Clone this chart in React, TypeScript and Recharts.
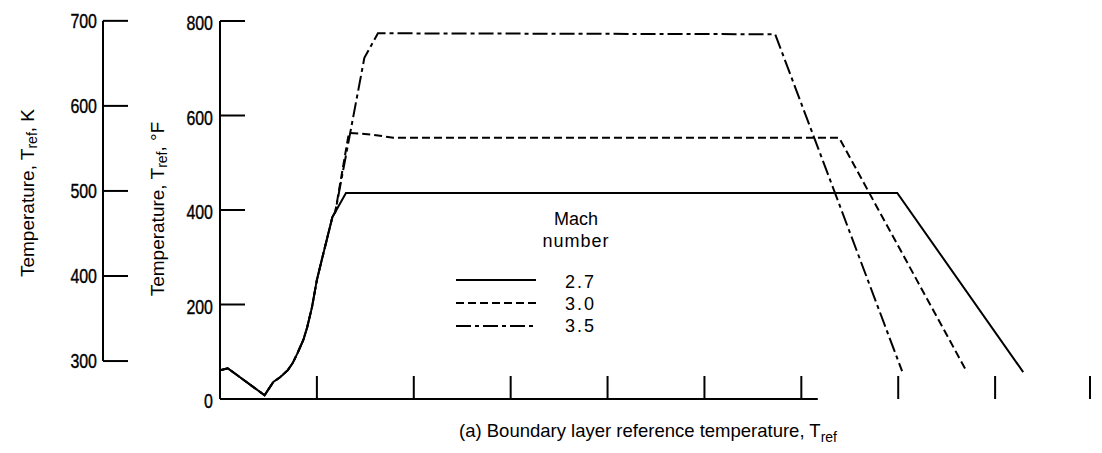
import React from 'react';
import { LineChart, Line, XAxis, YAxis, ReferenceLine, Legend, Label } from 'recharts';

// shared warm-up / climb part of the history (time ticks 0..9, temperature in deg F)
const riseTime = [0, 0.08, 0.46, 0.55, 0.62, 0.7, 0.75, 0.8, 0.86, 0.9, 0.95, 1.0, 1.05, 1.16, 1.19];
const riseTemp = [61, 65, 8, 36, 46, 61, 76, 97, 125, 152, 195, 252, 294, 385, 396];

// cruise + descent part for each Mach number
const mach27Time = [1.3, 6.99, 8.29];
const mach27Temp = [436, 436, 57];
const mach30Time = [1.33, 1.55, 1.79, 6.39, 7.71];
const mach30Temp = [563, 560, 553, 553, 57];
const mach35Time = [1.49, 1.63, 5.73, 7.04];
const mach35Temp = [722, 774, 772, 59];

const timeTicks = [1, 2, 3, 4, 5, 6, 7, 8, 9];
const fTicks = [0, 200, 400, 600, 800];
const kTicks = [300, 400, 500, 600, 700];
const baselineEnd = 6.17;

const F_MIN = 0;
const F_MAX = 800;
const toK = (f: number) => (f - 32) * 5 / 9 + 273.15;

const W = 1086;
const H = 437;
const TOP = 13;
const PLOT_H = 378;
const kStepPx = (100 * 9 / 5) * PLOT_H / (F_MAX - F_MIN);

const TEXT_FONT = '"Liberation Sans", Arial, sans-serif';

const build = (tx: number[], ty: number[]) =>
  riseTime.map((t, i) => ({ t, temp: riseTemp[i] })).concat(tx.map((t, i) => ({ t, temp: ty[i] })));

const series = [
  { name: '2.7', data: build(mach27Time, mach27Temp), dash: undefined as string | undefined },
  { name: '3.0', data: build(mach30Time, mach30Temp), dash: '8 4' },
  { name: '3.5', data: build(mach35Time, mach35Temp), dash: '15 4 4 4' },
];

// condensed numerals: regular face squeezed horizontally
const Num = ({ x, y, children }: { x: number; y: number; children: React.ReactNode }) => (
  <text
    transform={`translate(${x}, ${y}) scale(0.76, 1)`}
    textAnchor="end"
    fontFamily={TEXT_FONT}
    fontSize={21}
    stroke="#000"
    strokeWidth={0.4}
    fill="#000"
  >
    {children}
  </text>
);

const FTick = (props: any) => {
  const { x, y, payload } = props;
  return (
    <g>
      <line x1={x} x2={x + 25} y1={y} y2={y} stroke="#000" strokeWidth={2} />
      <Num x={x - 7} y={y + 9}>{payload.value}</Num>
    </g>
  );
};

const KTick = (props: any) => {
  const { x, y, payload } = props;
  const v = Math.round(payload.value);
  return (
    <g>
      <line x1={x} x2={x + 25} y1={y} y2={y} stroke="#000" strokeWidth={2} />
      {v > 300 && <line x1={x} x2={x} y1={y} y2={y + kStepPx} stroke="#000" strokeWidth={2} />}
      <Num x={x - 6} y={y + 7}>{v}</Num>
    </g>
  );
};

const TimeTick = (props: any) => {
  const { x, y } = props;
  return <line x1={x} x2={x} y1={y} y2={y - 23} stroke="#000" strokeWidth={2} />;
};

const axisTitle = (dx: number, dy: number, unit: string) => (props: any) => {
  const { viewBox } = props;
  const cx = viewBox.x + dx;
  const cy = viewBox.y + viewBox.height / 2 + dy;
  return (
    <text
      x={cx}
      y={cy}
      transform={`rotate(-90, ${cx}, ${cy})`}
      textAnchor="middle"
      dominantBaseline="central"
      fontFamily={TEXT_FONT}
      fontSize={19}
      fill="#000"
    >
      Temperature, T<tspan dy={5} fontSize={14}>ref</tspan>
      <tspan dy={-5}>, {unit}</tspan>
    </text>
  );
};

const timeTitle = (props: any) => {
  const { viewBox } = props;
  const cx = viewBox.x + 428;
  const cy = viewBox.y + 38;
  return (
    <text x={cx} y={cy} textAnchor="middle" fontFamily={TEXT_FONT} fontSize={18.5} fill="#000">
      (a) Boundary layer reference temperature, T<tspan dy={5} fontSize={14}>ref</tspan>
    </text>
  );
};

const MachLegend = () => (
  <svg width={170} height={130} style={{ display: 'block' }}>
    <text x={120} y={17} textAnchor="middle" fontFamily={TEXT_FONT} fontSize={18} fill="#000">Mach</text>
    <text x={120} y={39} textAnchor="middle" fontFamily={TEXT_FONT} fontSize={18} fill="#000" letterSpacing={1}>number</text>
    {series.map((s, i) => (
      <g key={s.name}>
        <line x1={0} x2={80} y1={72 + i * 23} y2={72 + i * 23} stroke="#000" strokeWidth={2} strokeDasharray={s.dash} />
        <text x={109} y={80 + i * 22} fontFamily={TEXT_FONT} fontSize={18} fill="#000" letterSpacing={2}>
          {s.name}
        </text>
      </g>
    ))}
  </svg>
);

export default function App() {
  return (
    <LineChart width={W} height={H} margin={{ top: TOP, right: 2, bottom: 0, left: 0 }}>
      <XAxis
        type="number"
        dataKey="t"
        domain={[0, 9]}
        ticks={timeTicks}
        axisLine={false}
        tickLine={false}
        tickSize={0}
        tickMargin={0}
        tick={<TimeTick />}
        height={46}
        allowDataOverflow
      >
        <Label content={timeTitle} />
      </XAxis>
      <YAxis
        yAxisId="F"
        type="number"
        domain={[F_MIN, F_MAX]}
        ticks={fTicks}
        width={117}
        axisLine={{ stroke: '#000', strokeWidth: 2 }}
        tickLine={false}
        tickSize={0}
        tickMargin={0}
        tick={<FTick />}
        allowDataOverflow
      >
        <Label content={axisTitle(54, -1, '°F')} />
      </YAxis>
      <YAxis
        yAxisId="K"
        type="number"
        domain={[toK(F_MIN), toK(F_MAX)]}
        ticks={kTicks}
        width={95}
        axisLine={false}
        tickLine={false}
        tickSize={0}
        tickMargin={0}
        tick={<KTick />}
        allowDataOverflow
      >
        <Label content={axisTitle(19, -17, 'K')} />
      </YAxis>
      <ReferenceLine
        yAxisId="F"
        segment={[{ x: 0, y: 0 }, { x: baselineEnd, y: 0 }]}
        stroke="#000"
        strokeWidth={2}
      />
      <Legend
        layout="horizontal"
        verticalAlign="middle"
        align="center"
        content={<MachLegend />}
        wrapperStyle={{ left: 448, top: 200, width: 170, height: 130 }}
      />
      {[...series].reverse().map((s) => (
        <Line
          key={s.name}
          yAxisId="F"
          data={s.data}
          dataKey="temp"
          name={s.name}
          type="linear"
          stroke="#000"
          strokeWidth={2}
          strokeDasharray={s.dash}
          dot={false}
          activeDot={false}
          isAnimationActive={false}
        />
      ))}
    </LineChart>
  );
}
